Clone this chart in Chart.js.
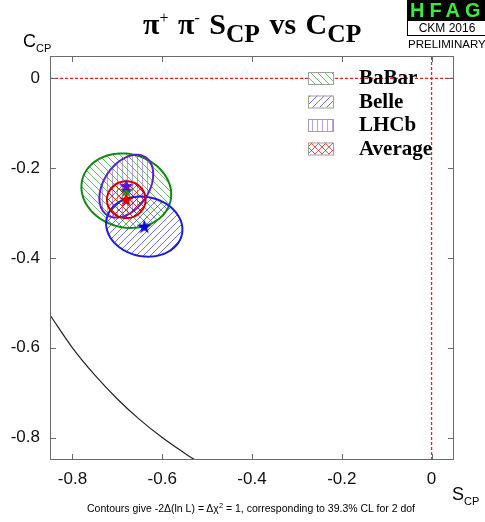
<!DOCTYPE html>
<html>
<head>
<meta charset="utf-8">
<script src="https://cdn.jsdelivr.net/npm/chart.js@4.4.0/dist/chart.umd.min.js"></script>
<style>
  body { margin: 0; background: #fff; }
  #wrap { position: relative; width: 485px; height: 522px; overflow: hidden; }
  #chart { position: absolute; left: 0; top: 0; }
  .txt { position: absolute; white-space: nowrap; color: #000; line-height: 1; }
  .txt sub, .txt sup { line-height: 0; }
  #title { left: 143px; top: 7px; font: bold 30px "Liberation Serif", serif; word-spacing: 2px; }
  #title sup { font-size: 16px; font-weight: normal; vertical-align: 11px; }
  #title sub { font-size: 25.5px; vertical-align: -8px; }
  #ytitle { left: 23px; top: 31px; font: 18px "Liberation Sans", sans-serif; }
  #xtitle { left: 452px; top: 484px; font: 18px "Liberation Sans", sans-serif; }
  #ytitle sub, #xtitle sub { font-size: 11px; vertical-align: -5px; }
  #caption { left: 0; width: 502px; text-align: center; top: 502px; font: 10.5px "Liberation Sans", sans-serif; }
  #caption sup { font-size: 7.5px; vertical-align: 4px; }
  #logo { position: absolute; left: 407px; top: 0; width: 80px; }
  #hfag { background: #000; color: #3ee83e; font: bold 20px "Liberation Sans", sans-serif; letter-spacing: 5px; height: 21px; line-height: 21px; padding-left: 3px; }
  #ckm { background: #fff; border: 1px solid #000; border-top: none; font: 12px "Liberation Sans", sans-serif; height: 14px; line-height: 14px; text-align: center; }
  #prelim { font: 11.5px "Liberation Sans", sans-serif; margin-top: 2px; padding-left: 1px; }
</style>
</head>
<body>
<div id="wrap">
  <canvas id="chart" width="485" height="522"></canvas>
  <div class="txt" id="title">π<sup>+</sup> π<sup>-</sup> S<sub>CP</sub> vs C<sub>CP</sub></div>
  <div class="txt" id="ytitle">C<sub>CP</sub></div>
  <div class="txt" id="xtitle">S<sub>CP</sub></div>
  <div class="txt" id="caption">Contours give -2Δ(ln L) = Δχ<sup>2</sup> = 1, corresponding to 39.3% CL for 2 dof</div>
  <div id="logo">
    <div id="hfag">HFAG</div>
    <div id="ckm">CKM 2016</div>
    <div id="prelim">PRELIMINARY</div>
  </div>
</div>
<script>
// measurements (S_CP, C_CP) with 1 sigma errors and S-C correlation
const experiments = ["BaBar", "Belle", "LHCb", "Average"];
const sCentre = [-0.68, -0.64, -0.68, -0.68];
const cCentre = [-0.25, -0.33, -0.24, -0.27];
const sError = [0.10, 0.085, 0.06, 0.043];
const cError = [0.083, 0.067, 0.07, 0.041];
const scCorrelation = [-0.10, -0.10, 0.38, 0.0];

// physical boundary S^2 + C^2 = 1
const boundaryS = [-0.85, -0.80, -0.75, -0.70, -0.65, -0.60, -0.55, -0.527];
const boundaryC = [-0.527, -0.600, -0.661, -0.714, -0.760, -0.800, -0.835, -0.85];

const sTicks = [-0.8, -0.6, -0.4, -0.2, 0];
const cTicks = [-0.8, -0.6, -0.4, -0.2, 0];

const lineColours = ["#118a11", "#1c1cd6", "#5a22cc", "#d00000"];
const hatchColours = ["rgba(30,150,30,0.65)", "rgba(40,40,220,0.65)", "rgba(120,70,210,0.5)", "rgba(220,0,0,0.65)"];
const starColours = ["#139a13", "#0000dd", "#5a10cc", "#dd0000"];
const hatchKinds = ["back", "fwd", "vert", "cross"];

function makeHatch(ctx, kind, colour) {
    const s = kind === "vert" ? 5 : 7;
    const c = document.createElement("canvas");
    c.width = s; c.height = s;
    const g = c.getContext("2d");
    g.strokeStyle = colour;
    g.lineWidth = 1;
    g.beginPath();
    if (kind === "vert") { g.moveTo(2.5, 0); g.lineTo(2.5, s); }
    if (kind === "back" || kind === "cross") {
        for (const k of [-s, 0, s]) { g.moveTo(k, 0); g.lineTo(k + s, s); }
    }
    if (kind === "fwd" || kind === "cross") {
        for (const k of [-s, 0, s]) { g.moveTo(k, s); g.lineTo(k + s, 0); }
    }
    g.stroke();
    return ctx.createPattern(c, "repeat");
}

function starImage(colour) {
    const c = document.createElement("canvas");
    c.width = c.height = 18;
    const g = c.getContext("2d");
    g.fillStyle = colour;
    g.beginPath();
    for (let k = 0; k < 10; k++) {
        const r = k % 2 ? 3.0 : 7.8;
        const a = -Math.PI / 2 + k * Math.PI / 5;
        g.lineTo(9 + r * Math.cos(a), 9.5 + r * Math.sin(a));
    }
    g.closePath();
    g.fill();
    return c;
}

function ellipsePath(ctx, xs, ys, i) {
    const r = scCorrelation[i], q = Math.sqrt(1 - r * r);
    ctx.beginPath();
    for (let k = 0; k <= 120; k++) {
        const t = k / 120 * 2 * Math.PI;
        const s = sCentre[i] + sError[i] * Math.cos(t);
        const c = cCentre[i] + cError[i] * (r * Math.cos(t) + q * Math.sin(t));
        const px = xs.getPixelForValue(s), py = ys.getPixelForValue(c);
        if (k === 0) ctx.moveTo(px, py); else ctx.lineTo(px, py);
    }
    ctx.closePath();
}

const fmt = v => Math.abs(v) < 1e-9 ? "0" : Number(v).toFixed(1);

const hfagPlot = {
    id: "hfagPlot",
    beforeDatasetsDraw(chart) {
        const ctx = chart.ctx, ca = chart.chartArea;
        const xs = chart.scales.x, ys = chart.scales.y;
        ctx.save();
        ctx.beginPath();
        ctx.rect(ca.left, ca.top, ca.width, ca.height);
        ctx.clip();
        experiments.forEach((name, i) => {
            ellipsePath(ctx, xs, ys, i);
            ctx.fillStyle = makeHatch(ctx, hatchKinds[i], hatchColours[i]);
            ctx.fill();
        });
        experiments.forEach((name, i) => {
            ellipsePath(ctx, xs, ys, i);
            ctx.strokeStyle = lineColours[i];
            ctx.lineWidth = 2;
            ctx.stroke();
        });
        ctx.restore();
    },
    afterDraw(chart) {
        const ctx = chart.ctx, ca = chart.chartArea;
        const xs = chart.scales.x, ys = chart.scales.y;
        ctx.save();
        // frame and inward ticks
        ctx.strokeStyle = "#6a6a6a";
        ctx.lineWidth = 1;
        ctx.strokeRect(ca.left + 0.5, ca.top + 0.5, ca.width - 1, ca.height - 1);
        ctx.beginPath();
        sTicks.forEach(v => {
            const px = Math.round(xs.getPixelForValue(v)) + 0.5;
            ctx.moveTo(px, ca.bottom); ctx.lineTo(px, ca.bottom - 6);
            ctx.moveTo(px, ca.top); ctx.lineTo(px, ca.top + 6);
        });
        cTicks.forEach(v => {
            const py = Math.round(ys.getPixelForValue(v)) + 0.5;
            ctx.moveTo(ca.left, py); ctx.lineTo(ca.left + 6, py);
            ctx.moveTo(ca.right, py); ctx.lineTo(ca.right - 6, py);
        });
        ctx.stroke();

        // legend
        experiments.forEach((name, i) => {
            const top = 72 + i * 23.5;
            ctx.fillStyle = "#fff";
            ctx.fillRect(308, top, 25, 12);
            ctx.fillStyle = makeHatch(ctx, hatchKinds[i], hatchColours[i]);
            ctx.fillRect(308, top, 25, 12);
            ctx.strokeStyle = "#a0a0a0";
            ctx.strokeRect(308.5, top + 0.5, 25, 12);
            ctx.fillStyle = "#000";
            ctx.font = "bold 21px 'Liberation Serif', serif";
            ctx.textBaseline = "middle";
            ctx.fillText(name, 359, top + 7);
        });
        ctx.restore();
    }
};

const datasets = experiments.map((name, i) => ({
    label: name,
    data: [{ x: sCentre[i], y: cCentre[i] }],
    pointStyle: starImage(starColours[i]),
    showLine: false,
    order: 10 - i
}));

datasets.push({
    label: "boundary",
    data: boundaryS.map((s, i) => ({ x: s, y: boundaryC[i] })),
    showLine: true,
    borderColor: "#222",
    borderWidth: 1.2,
    pointRadius: 0,
    cubicInterpolationMode: "monotone",
    order: 20
});

datasets.push({
    label: "C = 0",
    data: [{ x: -0.85, y: 0 }, { x: 0.05, y: 0 }],
    showLine: true,
    borderColor: "#ee2020",
    borderWidth: 1.3,
    borderDash: [3, 2],
    pointRadius: 0,
    order: 21
});

datasets.push({
    label: "S = 0",
    data: [{ x: 0, y: -0.85 }, { x: 0, y: 0.05 }],
    showLine: true,
    borderColor: "#ee2020",
    borderWidth: 1.3,
    borderDash: [3, 2],
    pointRadius: 0,
    order: 21
});

new Chart(document.getElementById("chart").getContext("2d"), {
    type: "scatter",
    data: { datasets: datasets },
    options: {
        responsive: false,
        animation: false,
        devicePixelRatio: 1,
        layout: { padding: { top: 56, right: 31, left: 0, bottom: 0 } },
        plugins: { legend: { display: false }, tooltip: { enabled: false } },
        scales: {
            x: {
                type: "linear", min: -0.85, max: 0.05,
                grid: { display: false, drawTicks: false },
                border: { display: false },
                afterBuildTicks: s => { s.ticks = sTicks.map(v => ({ value: v })); },
                afterFit: s => { s.height = 62; },
                ticks: { padding: 9, color: "#111", font: { family: "Liberation Sans", size: 17 }, callback: fmt }
            },
            y: {
                type: "linear", min: -0.85, max: 0.05,
                grid: { display: false, drawTicks: false },
                border: { display: false },
                afterBuildTicks: s => { s.ticks = cTicks.map(v => ({ value: v })); },
                afterFit: s => { s.width = 50; },
                ticks: { padding: 10, color: "#111", font: { family: "Liberation Sans", size: 17 }, callback: fmt }
            }
        }
    },
    plugins: [hfagPlot]
});
</script>
</body>
</html>
